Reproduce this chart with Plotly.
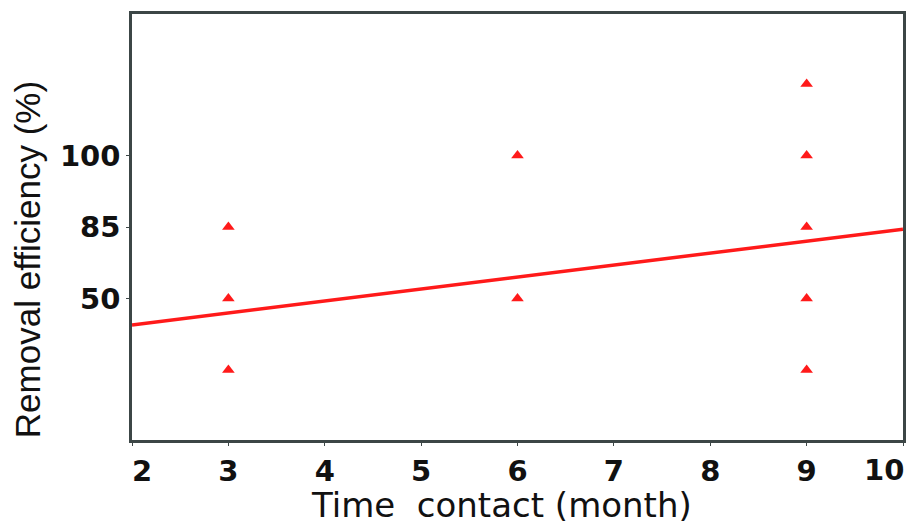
import plotly.graph_objects as go

# Measured points: contact time (months) and efficiency level (axis level units)
pt_time = [3, 3, 3, 6, 6, 9, 9, 9, 9, 9]
pt_level = [2, 1, 0, 3, 1, 4, 3, 2, 1, 0]

# Fitted trend line endpoints
line_time = [2, 10]
line_level = [0.63, 1.97]

x_ticks = [2, 3, 4, 5, 6, 7, 8, 9, 10]
x_tick_labels = ["\u00a0\u00a02", "3", "4", "5", "6", "7", "8", "9", ""]
last_x_label = "10"
y_tick_pos = [1, 2, 3]
y_tick_labels = ["50", "85", "100"]

fig = go.Figure()
fig.add_trace(go.Scatter(x=line_time, y=line_level, mode="lines",
                         line=dict(color="#ff1a1a", width=3.5), showlegend=False))
fig.add_trace(go.Scatter(x=pt_time, y=pt_level, mode="markers",
                         marker=dict(symbol="triangle-up", size=11, color="#ff1a1a"),
                         showlegend=False))

tick_font = dict(family="DejaVu Sans", size=29, color="#111")
fig.update_layout(
    width=908, height=517,
    margin=dict(l=124, r=13, t=6, b=85),
    plot_bgcolor="white", paper_bgcolor="white",
    xaxis=dict(range=[2, 10], tickvals=x_ticks,
               ticktext=["<b>" + t + "</b>" if t else "" for t in x_tick_labels],
               automargin=False,
               showgrid=False, zeroline=False,
               showline=True, mirror=True, linecolor="#3c4646", linewidth=2.5,
               ticks="outside", ticklen=3, tickcolor="#3c4646",
               tickfont=tick_font),
    yaxis=dict(range=[-0.98, 4.98], tickvals=y_tick_pos,
               ticktext=["<b>" + t + "</b>" for t in y_tick_labels],
               automargin=False,
               showgrid=False, zeroline=False,
               showline=True, mirror=True, linecolor="#3c4646", linewidth=2.5,
               ticks="outside", ticklen=3, tickcolor="#3c4646",
               tickfont=tick_font),
    annotations=[
        dict(text="<b>" + last_x_label + "</b>", xref="x", yref="paper",
             x=x_ticks[-1], y=0, xanchor="right", yanchor="top", xshift=3, yshift=-11,
             showarrow=False, font=tick_font),
        dict(text="Time  contact (month)", xref="paper", yref="paper",
             x=0.4786, y=-0.1526, xanchor="center", yanchor="middle", showarrow=False,
             font=dict(family="DejaVu Sans", size=34, color="#111")),
        dict(text="Removal efficiency (%)", xref="paper", yref="paper",
             x=-0.136, y=0.4225, xanchor="center", yanchor="middle", showarrow=False,
             textangle=-90,
             font=dict(family="Liberation Sans", size=35, color="#111")),
    ],
)

fig.write_html("out.html")
